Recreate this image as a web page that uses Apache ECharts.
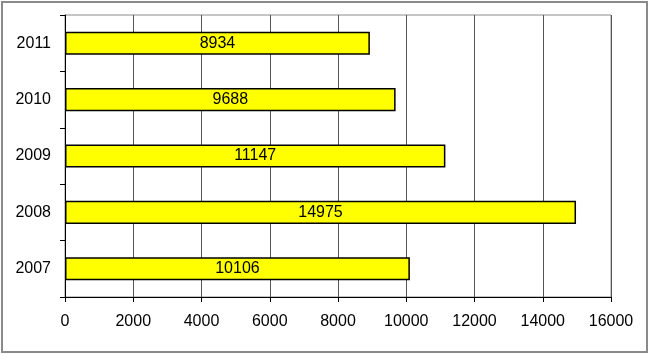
<!DOCTYPE html>
<html><head><meta charset="utf-8">
<script src="https://cdn.jsdelivr.net/npm/echarts@6/dist/echarts.min.js"></script>
<style>html,body{margin:0;padding:0;background:#fff}#c{width:650px;height:354px}</style>
</head><body><div id="c"></div>
<script>
const categories = ['2007', '2008', '2009', '2010', '2011'];
const values = [10106, 14975, 11147, 9688, 8934];
const xTicks = [0, 2000, 4000, 6000, 8000, 10000, 12000, 14000, 16000];

const chart = echarts.init(document.getElementById('c'), null, {renderer: 'canvas'});
const FONT = 'Liberation Sans, Arial, sans-serif';
chart.setOption({
  animation: false,
  backgroundColor: '#fff',
  graphic: [{type: 'rect', shape: {x: 2, y: 2, width: 645, height: 350}, style: {fill: 'none', stroke: '#8a8a8a', lineWidth: 2}, silent: true}],
  grid: {left: 65, right: 39, top: 15, bottom: 57, show: true, borderColor: '#8c8c8c', borderWidth: 1, containLabel: false},
  xAxis: {
    type: 'value', min: xTicks[0], max: xTicks[xTicks.length - 1], interval: 2000,
    axisLine: {show: true, lineStyle: {color: '#000', width: 1}},
    axisTick: {show: true, length: 5, lineStyle: {color: '#000'}},
    axisLabel: {color: '#000', fontSize: 16, fontFamily: FONT, margin: 17, formatter: v => String(v)},
    splitLine: {show: true, lineStyle: {color: '#555', width: 1}}
  },
  yAxis: {
    type: 'category', data: categories,
    axisLine: {show: true, lineStyle: {color: '#000', width: 1}},
    axisTick: {show: true, length: 5, lineStyle: {color: '#000'}},
    axisLabel: {color: '#000', fontSize: 16, fontFamily: FONT, margin: 14},
    splitLine: {show: false}
  },
  series: [{
    type: 'bar', data: values, barWidth: '41%',
    itemStyle: {color: '#ffff00', borderColor: '#000', borderWidth: 1.5},
    label: {show: true, position: 'inside', color: '#000', fontSize: 16, fontFamily: FONT}
  }]
});
</script></body></html>
